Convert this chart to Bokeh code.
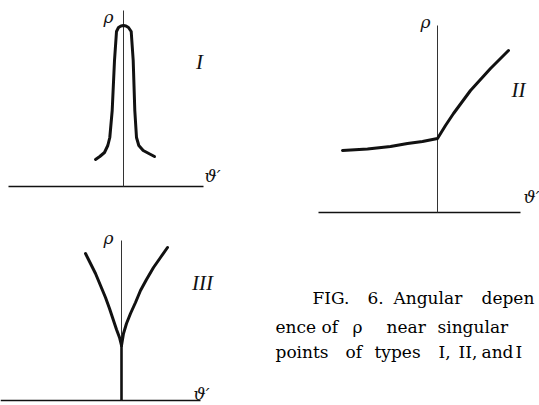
from bokeh.plotting import figure
from bokeh.models import Range1d
from bokeh.core.properties import value
from bokeh.embed import file_html
from bokeh.resources import INLINE

# ---------------- data (local coords: theta' right, rho up, origin at axis crossing) ------------
# Panel I: narrow peak
p1_theta = [-28, -23.7, -19, -15.7, -13.7, -11.3, -9, -7, -5, -2.5, 0, 2.5, 5, 7.7, 9.7, 11.3, 13, 15.3, 19.7, 25.3, 31]
p1_rho   = [27, 30, 34, 41, 49, 76, 126, 155, 159, 160.5, 161, 160.5, 159, 155, 126, 76, 49, 41, 36, 33, 30]
# Panel II: kink
p2_theta = [-95, -70, -47, -30, -15, 0, 8, 16, 33, 53, 71]
p2_rho   = [62, 63.5, 66, 69, 71, 74, 87, 99, 122, 144, 162]
# Panel III: cusp
p3_left_theta  = [-36, -31, -26, -21, -16, -12, -8, -5, -2, 0]
p3_left_rho    = [147, 137, 127, 115, 103, 92, 80, 71, 63, 55]
p3_right_theta = [46, 39, 32, 25, 19, 14, 9, 5, 2, 0]
p3_right_rho   = [153, 143, 133, 121, 110, 98, 87, 77, 67, 55]
p3_stem_theta  = [0, 0]
p3_stem_rho    = [55, 0]

# axes extents per panel (theta min, theta max, rho max)
axis_theta_min = [-115, -119, -121]
axis_theta_max = [80, 83, 79]
axis_rho_max   = [176, 187, 160]

panel_labels = ["I", "II", "III"]
caption_lines = [
    ["FIG.", "6.", "Angular", "depen"],
    ["ence", "of", "ρ", "near", "singular"],
    ["points", "of", "types", "I,", "II,", "and", "I"],
]

# ---------------- layout (page pixels) ----------------
origins = [(123, 186), (437, 212), (121, 400)]
rho_lbl_pos = [(108, 16), (425, 21), (108, 237)]
th_lbl_pos = [(212, 175), (531, 196), (201, 393)]
roman_pos = [(199, 61), (518, 89), (202, 282)]
cap_x = [[312, 367, 393, 481], [275, 321, 352, 386, 437], [275, 345, 374, 438, 458, 481, 515]]
cap_y = [297, 326, 351]

W, H = 539, 405
p = figure(width=W, height=H, x_range=Range1d(0, W), y_range=Range1d(H, 0),
           toolbar_location=None, output_backend="svg", min_border=0,
           outline_line_color=None, background_fill_color="white")
p.axis.visible = False
p.grid.visible = False

def tx(o, th):
    return [o[0] + t for t in th]

def ty(o, rh):
    return [o[1] - r for r in rh]

ink = "#111111"
# axes
for i, o in enumerate(origins):
    p.line(tx(o, [axis_theta_min[i], axis_theta_max[i]]), ty(o, [0, 0]), line_color=ink, line_width=1.3)
    p.line(tx(o, [0, 0]), ty(o, [0, axis_rho_max[i]]), line_color="#333333", line_width=1.0)

curve_kw = dict(line_color=ink, line_width=3, line_cap="round", line_join="round")
p.line(tx(origins[0], p1_theta), ty(origins[0], p1_rho), **curve_kw)
p.line(tx(origins[1], p2_theta), ty(origins[1], p2_rho), **curve_kw)
p.line(tx(origins[2], p3_left_theta), ty(origins[2], p3_left_rho), **curve_kw)
p.line(tx(origins[2], p3_right_theta), ty(origins[2], p3_right_rho), **curve_kw)
p.line(tx(origins[2], p3_stem_theta), ty(origins[2], p3_stem_rho), line_color=ink, line_width=2.6, line_cap="butt")

serif = value("DejaVu Serif")
p.text([q[0] for q in rho_lbl_pos], [q[1] for q in rho_lbl_pos], text=["ρ"] * 3,
       text_font=serif, text_font_style="italic", text_font_size="17px",
       text_align="center", text_baseline="middle", text_color=ink)
p.text([q[0] for q in th_lbl_pos], [q[1] for q in th_lbl_pos], text=["ϑ′"] * 3,
       text_font=serif, text_font_style="italic", text_font_size="17px",
       text_align="center", text_baseline="middle", text_color=ink)
p.text([q[0] for q in roman_pos], [q[1] for q in roman_pos], text=panel_labels,
       text_font=value("Liberation Serif"), text_font_style="italic", text_font_size="21px",
       text_align="center", text_baseline="middle", text_color=ink)

for li, words in enumerate(caption_lines):
    p.text(cap_x[li], [cap_y[li]] * len(words), text=words,
           text_font=serif, text_font_size="17px",
           text_align="left", text_baseline="alphabetic", text_color="black")

open("out.html", "w").write(file_html(p, INLINE))
